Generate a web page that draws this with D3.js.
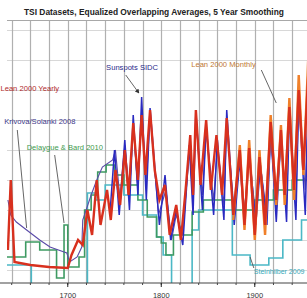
<!DOCTYPE html>
<html>
<head>
<meta charset="utf-8">
<script src="https://cdn.jsdelivr.net/npm/d3@7"></script>
<style>
  body { margin: 0; background: #fff; }
  svg { display: block; font-family: "Liberation Sans", Arial, sans-serif; }
</style>
</head>
<body>
<svg id="chart" width="307" height="298"></svg>
<script>
// TSI datasets, values (W/m2)
var leanYearlyYears = [1636,1639,1643,1660,1680,1700,1704,1711,1716,1721,1726,1731,1735,1742,1746,1751,1756,1761,1765,1770,1775,1779,1783,1788,1793,1798,1804,1809,1816,1821,1826,1831,1834,1837,1842,1848,1853,1859,1865,1870,1877,1884,1889,1894,1900,1905,1911,1917,1923,1928,1932,1937,1942,1947,1952,1958];
var leanYearlyVals  = [1365.20,1365.90,1365.08,1365.05,1365.03,1365.02,1365.15,1365.30,1365.25,1365.60,1365.35,1365.90,1365.45,1365.80,1365.50,1366.00,1365.65,1366.20,1365.75,1366.47,1365.90,1366.55,1365.95,1366.60,1366.00,1365.70,1365.85,1365.35,1365.65,1365.30,1365.80,1366.35,1365.75,1366.60,1365.85,1366.50,1365.80,1366.35,1365.75,1366.52,1365.55,1366.20,1365.45,1366.22,1365.35,1366.13,1365.45,1366.48,1365.70,1366.40,1365.75,1366.63,1365.80,1366.80,1366.00,1367.10];

var sunspotYears = [1745,1750,1755,1761,1766,1770,1775,1779,1784,1788,1798,1804,1810,1816,1823,1830,1834,1837,1844,1848,1856,1860,1867,1870,1878,1884,1889,1894,1901,1906,1913,1917,1923,1928,1934,1937,1944,1947,1954,1958];
var sunspotVals  = [1365.55,1366.20,1365.55,1366.30,1365.60,1366.55,1365.75,1366.73,1365.70,1366.62,1365.45,1365.95,1365.30,1365.60,1365.25,1366.25,1365.55,1366.58,1365.60,1366.45,1365.55,1366.30,1365.50,1366.60,1365.45,1366.10,1365.45,1366.20,1365.45,1366.05,1365.45,1366.40,1365.48,1366.35,1365.48,1366.58,1365.50,1366.75,1365.55,1367.00];

var leanMonthlyYears = [1877,1884,1889,1894,1900,1905,1911,1917,1923,1928,1932,1937,1942,1947,1952,1958];
var leanMonthlyVals  = [1365.50,1366.25,1365.40,1366.30,1365.30,1366.20,1365.35,1366.55,1365.65,1366.45,1365.65,1366.72,1365.70,1366.95,1365.95,1367.30];

var krivovaYears = [1636,1639,1645,1656,1670,1681,1690,1699,1702,1710,1715,1716,1725,1731,1737,1748,1751,1756,1761,1766,1770,1775,1779,1784,1788,1797,1805,1811,1816,1823,1830,1834,1837,1844,1848,1856,1860,1867,1870,1878,1884,1889,1894,1901,1906,1913,1917,1923,1928,1934,1937,1944,1947,1954,1958];
var krivovaVals  = [1365.70,1365.55,1365.48,1365.40,1365.30,1365.23,1365.20,1365.17,1365.08,1365.13,1365.23,1365.50,1365.75,1365.90,1366.03,1366.10,1366.20,1365.70,1366.25,1365.75,1366.45,1365.80,1366.60,1365.85,1366.55,1365.55,1365.80,1365.30,1365.55,1365.35,1366.20,1365.70,1366.50,1365.75,1366.40,1365.70,1366.25,1365.65,1366.45,1365.60,1366.10,1365.60,1366.15,1365.55,1366.05,1365.55,1366.35,1365.60,1366.30,1365.65,1366.55,1365.70,1366.70,1365.80,1366.95];

var delaygueYears = [1635,1655,1670,1688,1696,1700,1712,1718,1725,1732,1741,1750,1760,1775,1785,1795,1800,1805,1813,1833,1845,1876,1900,1920,1940,1975];
var delaygueVals  = [1365.13,1365.28,1365.20,1364.92,1365.45,1365.03,1365.13,1365.60,1365.75,1365.98,1366.05,1365.95,1365.85,1365.70,1365.53,1365.33,1365.27,1365.15,1365.35,1365.58,1365.70,1365.60,1365.70,1365.80,1365.90,1365.90];

var steinhilberYears = [1635,1661,1721,1730,1740,1760,1780,1795,1802,1811,1833,1840,1876,1895,1915,1930,1950,1975];
var steinhilberVals  = [1365.05,1364.75,1365.77,1365.70,1365.85,1365.75,1365.55,1365.33,1365.15,1364.75,1365.40,1365.60,1365.15,1365.05,1365.12,1365.30,1365.50,1365.50];

var majorTicks = [1700, 1800, 1900];
var gridYears = d3.range(1640, 1980, 20);
var gridVals = [1365.0,1365.3,1365.6,1365.9,1366.2,1366.5,1366.8,1367.1,1367.4];

var titleText = "TSI Datasets, Equalized Overlapping Averages, 5 Year Smoothing";

var plot = { left: 7, top: 20, bottom: 283 };

var x = d3.scaleLinear().domain([1635, 1975]).range([plot.left, plot.left + 340 * 0.935]);
var y = d3.scaleLinear().domain([1364.87, 1367.50]).range([plot.bottom, plot.top]);

var svg = d3.select("#chart");

svg.append("defs").append("clipPath").attr("id", "clip")
  .append("rect")
    .attr("x", plot.left).attr("y", plot.top)
    .attr("width", 400).attr("height", plot.bottom - plot.top);

svg.append("defs").append("marker")
    .attr("id", "arrow").attr("viewBox", "0 0 6 6")
    .attr("refX", 5).attr("refY", 3)
    .attr("markerWidth", 5).attr("markerHeight", 5)
    .attr("orient", "auto")
  .append("path").attr("d", "M0,0L6,3L0,6Z").attr("fill", "#333");

// grid
svg.append("g").selectAll("line").data(gridVals).enter().append("line")
    .attr("x1", plot.left).attr("x2", 307)
    .attr("y1", function(d) { return Math.round(y(d)) + 0.5; })
    .attr("y2", function(d) { return Math.round(y(d)) + 0.5; })
    .attr("stroke", "#d8d8d8").attr("stroke-width", 1);

svg.append("g").selectAll("line").data(gridYears).enter().append("line")
    .attr("x1", function(d) { return Math.round(x(d)) + 0.5; })
    .attr("x2", function(d) { return Math.round(x(d)) + 0.5; })
    .attr("y1", plot.top).attr("y2", plot.bottom)
    .attr("stroke", "#b0b0b0").attr("stroke-width", 1.2);

svg.append("line")
    .attr("x1", plot.left).attr("x2", 307)
    .attr("y1", plot.top + 0.5).attr("y2", plot.top + 0.5)
    .attr("stroke", "#a8a8a8");

// series
function series(years, vals) {
  return years.map(function(yr, i) { return [yr, vals[i]]; });
}

var line = d3.line()
    .x(function(d) { return x(d[0]); })
    .y(function(d) { return y(d[1]); });

var stepLine = d3.line()
    .x(function(d) { return x(d[0]); })
    .y(function(d) { return y(d[1]); })
    .curve(d3.curveStepAfter);

var g = svg.append("g").attr("clip-path", "url(#clip)");

g.append("path").datum(series(steinhilberYears, steinhilberVals))
    .attr("d", stepLine).attr("fill", "none")
    .attr("stroke", "#4bb8c6").attr("stroke-width", 1.6);

g.append("path").datum(series(delaygueYears, delaygueVals))
    .attr("d", stepLine).attr("fill", "none")
    .attr("stroke", "#3e9a62").attr("stroke-width", 1.6);

g.append("path").datum(series(krivovaYears, krivovaVals))
    .attr("d", line).attr("fill", "none")
    .attr("stroke", "#5a4aa8").attr("stroke-width", 1.1);

g.append("path").datum(series(sunspotYears, sunspotVals))
    .attr("d", line).attr("fill", "none")
    .attr("stroke", "#2a2ac0").attr("stroke-width", 1.5);

g.append("path").datum(series(leanMonthlyYears, leanMonthlyVals))
    .attr("d", line).attr("fill", "none")
    .attr("stroke", "#f0802a").attr("stroke-width", 2.4);

g.append("path").datum(series(leanYearlyYears, leanYearlyVals))
    .attr("d", line).attr("fill", "none")
    .attr("stroke", "#d8301e").attr("stroke-width", 2.4);

// x axis
var axis = svg.append("g").attr("transform", "translate(0," + plot.bottom + ")");
axis.append("line").attr("x1", 0).attr("x2", 307).attr("stroke", "#444").attr("stroke-width", 1.2);
axis.selectAll(".minor").data(gridYears).enter().append("line")
    .attr("x1", function(d) { return x(d); }).attr("x2", function(d) { return x(d); })
    .attr("y1", 0).attr("y2", 2).attr("stroke", "#444");
axis.selectAll(".major").data(majorTicks).enter().append("line")
    .attr("x1", function(d) { return x(d); }).attr("x2", function(d) { return x(d); })
    .attr("y1", 0).attr("y2", 4).attr("stroke", "#222");
axis.selectAll("text").data(majorTicks).enter().append("text")
    .attr("x", function(d) { return x(d); }).attr("y", 14.5)
    .attr("text-anchor", "middle").attr("font-size", 7.5).attr("fill", "#333")
    .text(function(d) { return d; });

// title
svg.append("text").attr("x", 24).attr("y", 15)
    .attr("font-size", 8.4).attr("font-weight", "bold").attr("fill", "#222")
    .text(titleText);

// annotations: label position (year, value) and target point on the series
var labelNames = ["Lean 2000 Yearly", "Krivova/Solanki 2008", "Delaygue & Bard 2010", "Sunspots SIDC", "Lean 2000 Monthly", "Steinhilber 2009"];
var labelColors = ["#b02a2a", "#40388a", "#3e9a4e", "#2a2a8a", "#c07830", "#35a8b8"];
var labelSizes = [7.6, 7.6, 7.6, 7.6, 7.6, 7];
var labelYears = [1628, 1632, 1656, 1741, 1832, 1899];
var labelVals = [1366.79, 1366.46, 1366.20, 1367.00, 1367.03, 1364.96];
var leaderFrom = [null, [1646, 1366.40], [1686, 1366.15], [1762, 1366.95], [1907, 1367.00], [1895, 1365.13]];
var leaderTo = [null, [1656, 1365.42], [1696, 1365.47], [1776, 1366.77], [1923, 1366.67], [1899, 1365.02]];

leaderFrom.forEach(function(p, i) {
  if (!p) return;
  svg.append("line")
      .attr("x1", x(p[0])).attr("y1", y(p[1]))
      .attr("x2", x(leaderTo[i][0])).attr("y2", y(leaderTo[i][1]))
      .attr("stroke", "#555").attr("stroke-width", 0.9)
      .attr("marker-end", i === 3 ? "url(#arrow)" : null);
});

svg.append("g").selectAll("text").data(labelNames).enter().append("text")
    .attr("x", function(d, i) { return x(labelYears[i]); })
    .attr("y", function(d, i) { return y(labelVals[i]); })
    .attr("font-size", function(d, i) { return labelSizes[i]; })
    .attr("fill", function(d, i) { return labelColors[i]; })
    .text(function(d) { return d; });
</script>
</body>
</html>
